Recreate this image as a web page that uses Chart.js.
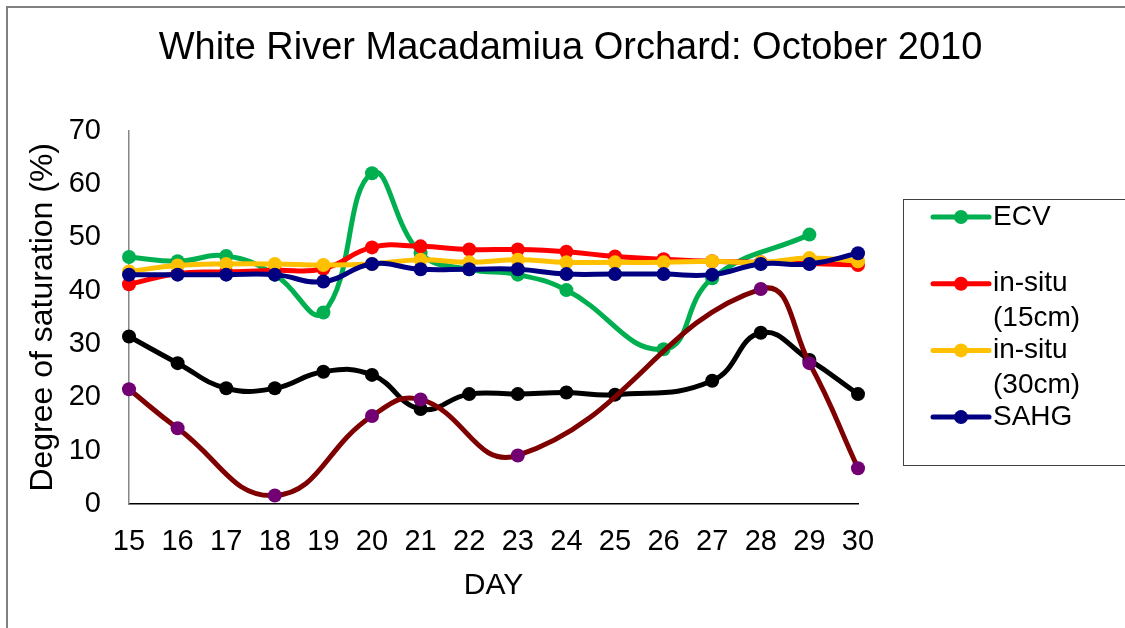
<!DOCTYPE html>
<html>
<head>
<meta charset="utf-8">
<script src="https://cdn.jsdelivr.net/npm/chart.js@4"></script>
<style>
  body { margin: 0; background: #fff; }
</style>
</head>
<body>
<canvas id="myChart" width="1125" height="628"></canvas>
<script>
let days = ['15', '16', '17', '18', '19', '20', '21', '22', '23', '24', '25', '26', '27', '28', '29', '30']

let ecv = [46.3, 45.5, 46.5, 43.0, 35.9, 62.0, 47.0, 44.0, 43.0, 40.1, null, 29.0, 42.3, null, 50.5, null]
let insitu15 = [41.2, 43.2, 43.5, 43.8, 44.1, 48.1, 48.3, 47.7, 47.7, 47.3, 46.4, 45.9, 45.5, 45.3, 45.1, 44.8]
let insitu30 = [43.6, 44.7, 45.0, 45.0, 44.8, 45.0, 45.8, 45.3, 45.8, 45.3, 45.3, 45.3, 45.5, 45.3, 46.1, 45.5]
let sahg = [43.0, 43.0, 43.0, 43.0, 41.7, 45.0, 44.0, 44.0, 44.0, 43.1, 43.1, 43.1, 43.0, 45.0, 45.0, 47.0]
let blackSeries = [31.4, 26.4, 21.7, 21.7, 24.8, 24.2, 17.8, 20.6, 20.6, 20.9, 20.5, null, 23.1, 32.1, 27.0, 20.6]
let maroonSeries = [21.5, 14.2, null, 1.6, null, 16.5, 19.6, null, 9.1, null, null, null, null, 40.3, 26.4, 6.7]

let legendNames = [['ECV'], ['in-situ', '(15cm)'], ['in-situ', '(30cm)'], ['SAHG']]

const FONT = "'Liberation Sans', Arial, sans-serif"

function makeSeries(label, values, lineColor, pointColor, order) {
    return {
        label: label,
        data: values,
        borderColor: lineColor,
        backgroundColor: pointColor,
        pointBackgroundColor: pointColor,
        pointBorderColor: pointColor,
        pointBorderWidth: 0,
        pointRadius: 7,
        borderWidth: 5,
        tension: 0.45,
        spanGaps: true,
        fill: false,
        order: order
    }
}

let datasets = [
    makeSeries('ECV', ecv, '#00B050', '#00B050', 6),
    makeSeries('in-situ (15cm)', insitu15, '#FF0000', '#FF0000', 5),
    makeSeries('in-situ (30cm)', insitu30, '#FFC000', '#FFC000', 4),
    makeSeries('SAHG', sahg, '#000080', '#000080', 3),
    makeSeries('', blackSeries, '#000000', '#000000', 2),
    makeSeries('', maroonSeries, '#7F0000', '#720072', 1)
]

let frameAndLegend = {
    id: 'frameAndLegend',
    beforeDraw(chart) {
        let ctx = chart.ctx
        ctx.save()
        ctx.fillStyle = '#fff'
        ctx.fillRect(0, 0, chart.width, chart.height)
        ctx.strokeStyle = '#808080'
        ctx.lineWidth = 2
        ctx.strokeRect(7, 7, chart.width + 20, chart.height + 20)
        ctx.restore()
    },
    afterDraw(chart) {
        let ctx = chart.ctx
        ctx.save()
        ctx.strokeStyle = '#404040'
        ctx.lineWidth = 1
        ctx.strokeRect(903.5, 199.5, 240, 266)

        ctx.font = '28px ' + FONT
        ctx.textBaseline = 'middle'
        ctx.textAlign = 'left'
        for (let i = 0; i < legendNames.length; i++) {
            let ds = chart.data.datasets[i]
            let y = 217 + i * 66.7
            ctx.strokeStyle = ds.borderColor
            ctx.lineWidth = 5
            ctx.lineCap = 'round'
            ctx.beginPath()
            ctx.moveTo(933, y)
            ctx.lineTo(989, y)
            ctx.stroke()
            ctx.fillStyle = ds.pointBackgroundColor
            ctx.beginPath()
            ctx.arc(961, y, 7, 0, Math.PI * 2)
            ctx.fill()
            ctx.fillStyle = '#000'
            legendNames[i].forEach((line, j) => {
                ctx.fillText(line, 993, y + j * 35)
            })
        }
        ctx.restore()
    }
}

let config = {
    type: 'line',
    data: { labels: days, datasets: datasets },
    options: {
        responsive: false,
        animation: false,
        layout: { padding: { left: 16, right: 0, top: 0, bottom: 0 } },
        plugins: {
            legend: { display: false },
            tooltip: { enabled: false },
            title: {
                display: true,
                text: 'White River Macadamiua Orchard: October 2010',
                color: '#000',
                font: { family: FONT, size: 38, weight: 'normal', lineHeight: 1.2 },
                padding: { top: 26, bottom: 59 },
                align: 'center',
                fullSize: true
            }
        },
        scales: {
            x: {
                offset: false,
                grid: { display: false, drawTicks: false },
                border: { display: true, color: '#000', width: 1.5 },
                ticks: { color: '#000', font: { family: FONT, size: 29 }, padding: 21, maxRotation: 0, autoSkip: false },
                title: { display: true, text: 'DAY', color: '#000', font: { family: FONT, size: 30 }, padding: { top: 0, bottom: 24 } },
                afterFit(scale) { scale.height = 124 }
            },
            y: {
                min: 0,
                max: 70,
                grid: { display: false, drawTicks: false },
                border: { display: true, color: '#868686', width: 1.5 },
                ticks: { stepSize: 10, color: '#000', font: { family: FONT, size: 29 }, padding: 28 },
                title: { display: true, text: 'Degree of saturation (%)', color: '#000', font: { family: FONT, size: 32 }, padding: { top: 8, bottom: 0 } },
                afterFit(scale) { scale.width = 113 }
            },
            legendSpace: {
                position: 'right',
                grid: { display: false, drawTicks: false },
                border: { display: false },
                ticks: { display: false },
                afterFit(scale) { scale.width = 267 }
            }
        }
    },
    plugins: [frameAndLegend]
}

let myChart = new Chart(document.getElementById('myChart'), config)
</script>
</body>
</html>
